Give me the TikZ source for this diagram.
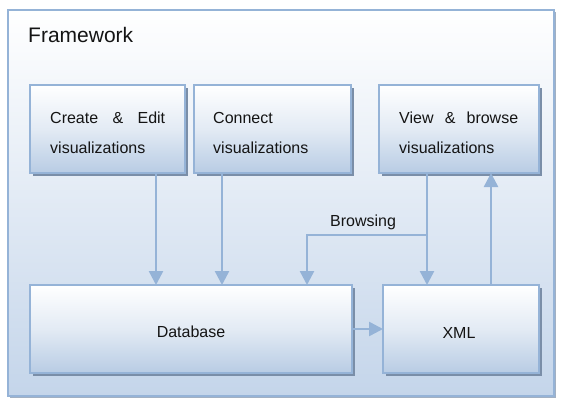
\documentclass[tikz,border=0pt]{standalone}
\usepackage{fontspec}
\setmainfont{Liberation Sans}
\usetikzlibrary{shadows,arrows.meta}
\definecolor{bord}{RGB}{149,179,215}
\definecolor{boxbot}{RGB}{184,204,228}
\definecolor{framebot}{RGB}{196,213,234}
\definecolor{shad}{RGB}{122,142,168}
\definecolor{txt}{RGB}{20,20,20}
\begin{document}
\begin{tikzpicture}[x=1pt,y=-1pt,
  box/.style={draw=bord, line width=2pt, top color=white, bottom color=boxbot,
    middle color=white!60!boxbot,
    anchor=north west, inner sep=0pt, outer sep=0pt, minimum height=88pt,
    drop shadow={shadow xshift=3pt, shadow yshift=-3pt, fill=shad, opacity=1}},
  arr/.style={draw=bord, line width=2.5pt, -{Triangle[width=14pt,length=14pt]}},
  lbl/.style={font=\fontsize{16}{16}\selectfont, text=txt, inner sep=0pt, anchor=base west}]
\useasboundingbox (0,0) rectangle (561,401);
% frame
\node[draw=bord, line width=2pt, top color=white, bottom color=framebot,
  anchor=north west, inner sep=0pt, outer sep=0pt,
  minimum width=546pt, minimum height=386pt,
  drop shadow={shadow xshift=2pt, shadow yshift=-2pt, fill=shad!70, opacity=1}] (frame) at (8,10) {};
\node[lbl, font=\fontsize{21}{21}\selectfont] (fw) at (28,43) {Framework};
% boxes
\node[box, minimum width=155pt] (create) at (30,85) {};
\node[box, minimum width=157pt] (connect) at (194,85) {};
\node[box, minimum width=160pt] (view) at (379,85) {};
\node[box, minimum width=322pt] (db) at (30,285) {};
\node[box, minimum width=156pt] (xml) at (383,285) {};
% texts
\node[lbl] (c1) at (50,123) {\makebox[115pt][s]{Create\hfill\&\hfill Edit}};
\node[lbl] (c2) at (50,153) {visualizations};
\node[lbl] (n1) at (213,123) {Connect};
\node[lbl] (n2) at (213,153) {visualizations};
\node[lbl] (v1) at (399,123) {\makebox[119pt][s]{View\hfill\&\hfill browse}};
\node[lbl] (v2) at (399,153) {visualizations};
\node[lbl, anchor=base] (dbt) at (191,337) {Database};
\node[lbl, anchor=base] (xmlt) at (459,338) {XML};
\node[lbl, anchor=base] (brt) at (363,226) {Browsing};
% connectors
\coordinate (xa) at (156,0);
\coordinate (xb) at (222,0);
\coordinate (xc) at (427,0);
\coordinate (xd) at (491,0);
\coordinate (xe) at (307,0);
\coordinate (bj) at (427,235);
\draw[arr] (create.south -| xa) -- (db.north -| xa);
\draw[arr] (connect.south -| xb) -- (db.north -| xb);
\draw[arr] (view.south -| xc) -- (xml.north -| xc);
\draw[arr] (xml.north -| xd) -- (view.south -| xd);
\draw[arr] (bj) -| (db.north -| xe);
\draw[arr] (db.east) -- (xml.west);
\end{tikzpicture}
\end{document}
